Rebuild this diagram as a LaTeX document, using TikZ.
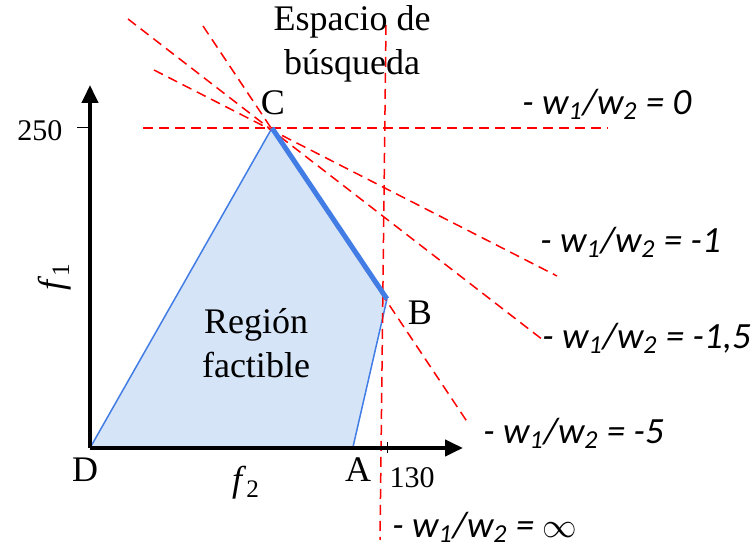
\documentclass[tikz,border=0pt]{standalone}
\usepackage{fontspec}
\setmainfont{Liberation Serif}
\newfontfamily\lblfont{Carlito}
\usetikzlibrary{arrows.meta}

\definecolor{edgeblue}{RGB}{66,125,230}
\definecolor{regionfill}{RGB}{214,228,248}

\newcommand{\wratio}[1]{- \textit{w\textsubscript{1}/w\textsubscript{2} = #1}}

\begin{document}
\begin{tikzpicture}[x=0.5pt, y=-0.5pt,
    axis/.style={line width=2pt, -{Triangle[length=9pt, width=8pt]}},
    edge/.style={draw=edgeblue, line width=0.75pt},
    level/.style={red, line width=0.75pt, dash pattern=on 5pt off 3pt},
    pt/.style={font=\fontsize{18}{20}\selectfont},
    tick/.style={font=\fontsize{15}{17}\selectfont},
    ratio/.style={font=\lblfont\itshape\fontsize{18.5}{20}\selectfont, anchor=west, inner sep=0pt}]

    \useasboundingbox (0,0) rectangle (756,549);

    % Vertices
    \coordinate (D) at (90,448);
    \coordinate (C) at (272,128);
    \coordinate (B) at (387,299);
    \coordinate (A) at (353,447);

    % Feasible region
    \fill[regionfill] (D) -- (C) -- (B) -- (A) -- cycle;
    \draw[edge] (D) -- (C);
    \draw[edge] (B) -- (A) -- (D);

    % Level lines
    \coordinate (h0) at (143,128);   \coordinate (h1) at (608,128);
    \coordinate (v0) at (386,25);    \coordinate (v1) at (380,540);
    \coordinate (m0) at (154,70);    \coordinate (m1) at (557,276);
    \coordinate (n0) at (128,19);    \coordinate (n1) at (543,340);
    \coordinate (p0) at (203,26);    \coordinate (p1) at (468,423);
    \draw[level] (h0) -- (h1);
    \draw[level] (v0) -- (v1);
    \draw[level] (m0) -- (m1);
    \draw[level] (n0) -- (n1);
    \draw[level] (p0) -- (p1);

    % Pareto edge
    \draw[edgeblue, line width=2.5pt] (C) -- (B);

    % Axes
    \coordinate (ytip) at (90,85);
    \coordinate (xtip) at (463,448);
    \draw[axis] (D) -- (ytip);
    \draw[axis] (D) -- (xtip);
    \draw[line width=0.5pt] (77,128) -- (90,128);
    \draw[line width=0.5pt] (387,442) -- (387,453);

    % Labels
    \node[pt] (lC) at (273,103) {C};
    \node[pt] (lB) at (420,313) {B};
    \node[pt] (lA) at (358,470) {A};
    \node[pt] (lD) at (85,470) {D};
    \node[tick] (t250) at (40,131) {250};
    \node[tick] (t130) at (412,478) {130};
    \node[pt, rotate=90] (f1) at (55,277) {\textit{f}\textsubscript{1}};
    \node[pt] (f2) at (246,483) {\textit{f}\textsubscript{2}};
    \node[pt, align=center, font=\fontsize{18}{22}\selectfont] (region) at (256,343) {Región\\factible};
    \node[pt, align=center, font=\fontsize{18}{22}\selectfont] (space) at (352,44) {Espacio de\\búsqueda};

    % Ratios
    \node[ratio] (r0) at (522,104) {\wratio{0}};
    \node[ratio] (r1) at (540,242) {\wratio{-1}};
    \node[ratio] (r15) at (542,338) {\wratio{-1,5}};
    \node[ratio] (r5) at (483,433) {\wratio{-5}};
    \node[ratio] (rinf) at (392,527) {\wratio{$\infty$}};
\end{tikzpicture}
\end{document}
